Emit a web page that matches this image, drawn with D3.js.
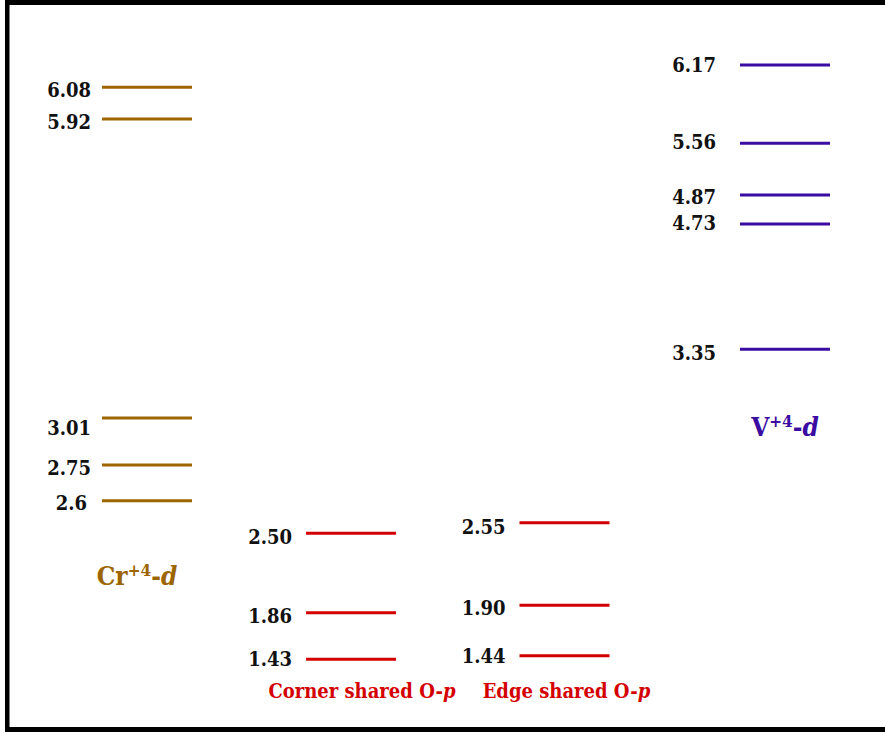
<!DOCTYPE html>
<html>
<head>
<meta charset="utf-8">
<script src="https://cdn.jsdelivr.net/npm/d3@7"></script>
<style>
  html, body { margin: 0; padding: 0; background: #fff; }
  svg { display: block; }
  text { font-family: "DejaVu Serif", serif; font-weight: bold; font-stretch: condensed; }
</style>
</head>
<body>
<script>
// Energy levels (eV) for each manifold
const crLevels     = [6.08, 5.92, 3.01, 2.75, 2.6];
const crLabels     = ["6.08", "5.92", "3.01", "2.75", "2.6"];
const cornerLevels = [2.50, 1.86, 1.43];
const cornerLabels = ["2.50", "1.86", "1.43"];
const edgeLevels   = [2.55, 1.90, 1.44];
const edgeLabels   = ["2.55", "1.90", "1.44"];
const vLevels      = [6.17, 5.56, 4.87, 4.73, 3.35];
const vLabels      = ["6.17", "5.56", "4.87", "4.73", "3.35"];

const columns = ["Cr", "Corner", "Edge", "V"];

const width = 885, height = 732;

// Schematic energy axis: piecewise-linear, stretched where levels crowd together
const axisEnergies = [6.17, 6.08, 5.92, 5.56, 4.87, 4.73, 3.35, 3.01, 2.75, 2.6, 2.55, 2.50, 1.90, 1.86, 1.44, 1.43];
const axisPixels   = [65, 87.3, 119, 143.3, 195, 224, 349.3, 418, 465, 500.7, 522.7, 533.3, 605.3, 612.7, 655.7, 659.3];
const y = d3.scaleLinear().domain(axisEnergies).range(axisPixels);

// Column centres
const x = d3.scaleOrdinal().domain(columns).range([147, 351, 564.5, 785]);
const levelWidth = 90;

// Label offsets (vertical nudges and horizontal shifts) per level
const groups = [
  { key: "Cr",     levels: crLevels,     labels: crLabels,     color: "#9c6500", gap: 11,
    nudge: [0, 0, 7, 0, -1], shift: [0, 0, 0, 0, -4] },
  { key: "Corner", levels: cornerLevels, labels: cornerLabels, color: "#d40000", gap: 14,
    nudge: [1, 0, -3.5], shift: [0, 0, 0] },
  { key: "Edge",   levels: edgeLevels,   labels: edgeLabels,   color: "#d40000", gap: 14,
    nudge: [1, 0, -2.5], shift: [0, 0, 0] },
  { key: "V",      levels: vLevels,      labels: vLabels,      color: "#3b0ca2", gap: 24,
    nudge: [-3.5, -4, -1.5, -4, 1], shift: [0, 0, 0, 0, 0] }
];

const svg = d3.select("body").append("svg")
  .attr("width", width).attr("height", height);

// Frame
svg.append("rect").attr("x", 5).attr("y", 0).attr("width", width - 5).attr("height", 5).attr("fill", "#000");
svg.append("rect").attr("x", 5).attr("y", 0).attr("width", 4.5).attr("height", height).attr("fill", "#000");
svg.append("rect").attr("x", 5).attr("y", height - 5).attr("width", width - 5).attr("height", 5).attr("fill", "#000");

groups.forEach(g => {
  const cx = x(g.key);
  const gEl = svg.append("g");
  const rows = g.levels.map((v, i) => ({ v, label: g.labels[i], dy: g.nudge[i], dx: g.shift[i] }));

  gEl.selectAll("line").data(rows).join("line")
    .attr("x1", cx - levelWidth / 2).attr("x2", cx + levelWidth / 2)
    .attr("y1", d => y(d.v)).attr("y2", d => y(d.v))
    .attr("stroke", g.color).attr("stroke-width", 3);

  gEl.selectAll("text").data(rows).join("text")
    .attr("x", d => cx - levelWidth / 2 - g.gap + d.dx)
    .attr("y", d => y(d.v) + 10 + d.dy)
    .attr("text-anchor", "end")
    .attr("font-size", 20)
    .attr("fill", "#111")
    .text(d => d.label);
});

// Ion d-manifold titles
function ionTitle(sym, cx, baseY, color) {
  const t = svg.append("text")
    .attr("x", cx).attr("y", baseY)
    .attr("text-anchor", "middle")
    .attr("font-size", 26)
    .attr("fill", color);
  t.append("tspan").text(sym);
  t.append("tspan").attr("font-size", 17).attr("dy", -9).text("+4");
  t.append("tspan").attr("dy", 9).text("-");
  t.append("tspan").attr("font-style", "italic").text("d");
}
ionTitle("Cr", x("Cr") - 10, y(d3.min(crLevels)) + 84.5, "#9c6500");
ionTitle("V", x("V"), y(d3.min(vLevels)) + 87, "#3b0ca2");

// Oxygen p-manifold titles
function oxTitle(prefix, cx) {
  const t = svg.append("text")
    .attr("x", cx).attr("y", 698)
    .attr("text-anchor", "middle")
    .attr("font-size", 20)
    .attr("fill", "#d40000");
  t.append("tspan").text(prefix + " shared O-");
  t.append("tspan").attr("font-style", "italic").text("p");
}
oxTitle("Corner", x("Corner") + 11);
oxTitle("Edge", x("Edge") + 2);
</script>
</body>
</html>
